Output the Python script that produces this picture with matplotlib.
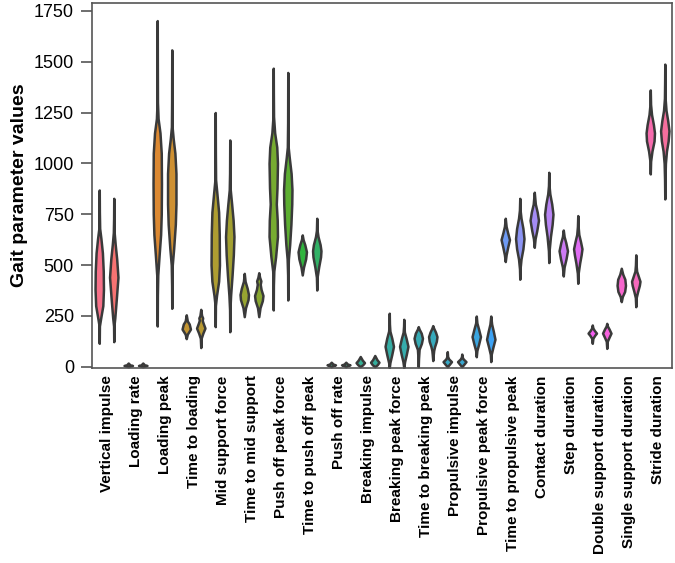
import matplotlib
matplotlib.use("Agg")
import matplotlib.pyplot as plt
import seaborn as sns

plt.rcParams['font.family'] = ['Liberation Sans', 'DejaVu Sans']

labels = ['Vertical impulse', 'Loading rate', 'Loading peak', 'Time to loading',
          'Mid support force', 'Time to mid support', 'Push off peak force',
          'Time to push off peak', 'Push off rate', 'Breaking impulse',
          'Breaking peak force', 'Time to breaking peak', 'Propulsive impulse',
          'Propulsive peak force', 'Time to propulsive peak', 'Contact duration',
          'Step duration', 'Double support duration', 'Single support duration',
          'Stride duration']

# density profiles: value knots and relative density (0..1)
# two violins per parameter
profiles = [
    # Vertical impulse
    ([115, 200, 240, 300, 380, 470, 560, 630, 680, 760, 869],
     [0, .04, .35, .85, 1, .95, .75, .4, .1, .03, 0]),
    ([123, 200, 240, 330, 440, 530, 600, 660, 730, 828],
     [0, .04, .25, .6, 1, .7, .35, .1, .03, 0]),
    # Loading rate
    ([0, 3, 6, 9, 18], [0, .5, 1, .4, 0]),
    ([0, 3, 6, 9, 18], [0, .5, 1, .4, 0]),
    # Loading peak
    ([200, 350, 450, 550, 650, 750, 900, 1050, 1150, 1220, 1300, 1500, 1702],
     [0, .03, .12, .45, .8, .95, 1, .95, .65, .2, .05, .02, 0]),
    ([287, 400, 500, 580, 700, 800, 950, 1050, 1120, 1180, 1300, 1558],
     [0, .03, .12, .45, .85, 1, 1, .75, .35, .08, .03, 0]),
    # Time to loading
    ([138, 160, 185, 210, 225, 255], [0, .25, 1, .7, .25, 0]),
    ([94, 140, 165, 190, 215, 228, 240, 252, 282],
     [0, .1, .5, 1, .55, .35, .45, .2, 0]),
    # Mid support force
    ([197, 300, 350, 420, 500, 650, 760, 850, 920, 1050, 1250],
     [0, .04, .3, .8, 1, .95, .8, .4, .08, .03, 0]),
    ([172, 280, 350, 450, 550, 640, 720, 800, 870, 950, 1115],
     [0, .04, .2, .55, .85, 1, .8, .45, .12, .04, 0]),
    # Time to mid support
    ([246, 290, 330, 355, 385, 420, 459], [0, .3, .9, 1, .7, .2, 0]),
    ([246, 290, 325, 350, 380, 405, 422, 440, 462],
     [0, .3, .85, 1, .55, .35, .5, .2, 0]),
    # Push off peak force
    ([279, 400, 470, 540, 640, 720, 800, 880, 1000, 1080, 1150, 1230, 1350, 1468],
     [0, .03, .12, .5, .9, .85, .65, .8, .9, .75, .3, .06, .02, 0]),
    ([328, 450, 530, 600, 700, 800, 870, 950, 1030, 1080, 1200, 1447],
     [0, .03, .15, .45, .75, .95, 1, .8, .35, .1, .03, 0]),
    # Time to push off peak
    ([451, 490, 530, 565, 600, 625, 648], [0, .3, .8, 1, .6, .2, 0]),
    ([377, 440, 490, 540, 570, 600, 640, 670, 730],
     [0, .08, .45, .9, 1, .8, .3, .08, 0]),
    # Push off rate
    ([0, 5, 9, 13, 22], [0, .4, 1, .4, 0]),
    ([0, 5, 9, 13, 22], [0, .4, 1, .4, 0]),
    # Breaking impulse
    ([0, 10, 20, 32, 50], [0, .6, 1, .5, 0]),
    ([0, 10, 22, 35, 55], [0, .6, 1, .5, 0]),
    # Breaking peak force
    ([-5, 20, 60, 100, 140, 175, 210, 263], [0, .15, .6, 1, .6, .15, .04, 0]),
    ([-5, 25, 60, 100, 140, 170, 200, 233], [0, .2, .6, 1, .55, .15, .04, 0]),
    # Time to breaking peak
    ([0, 40, 85, 115, 140, 165, 185, 197], [0, .06, .2, .75, 1, .7, .2, 0]),
    ([30, 60, 80, 100, 125, 148, 170, 190, 202],
     [0, .12, .22, .45, .85, 1, .65, .2, 0]),
    # Propulsive impulse
    ([0, 12, 25, 38, 50, 74], [0, .5, 1, .35, .08, 0]),
    ([0, 12, 25, 38, 48, 62], [0, .5, 1, .35, .08, 0]),
    # Propulsive peak force
    ([49, 80, 110, 148, 185, 215, 249], [0, .15, .55, 1, .55, .15, 0]),
    ([25, 60, 95, 135, 175, 210, 249], [0, .1, .5, 1, .6, .2, 0]),
    # Time to propulsive peak
    ([517, 550, 590, 625, 660, 690, 730], [0, .2, .6, 1, .55, .2, 0]),
    ([430, 480, 530, 580, 630, 680, 730, 770, 828],
     [0, .06, .3, .75, 1, .75, .3, .08, 0]),
    # Contact duration
    ([587, 630, 670, 720, 760, 800, 858], [0, .2, .6, 1, .7, .25, 0]),
    ([512, 570, 640, 700, 750, 800, 850, 890, 956],
     [0, .08, .4, .8, 1, .7, .25, .07, 0]),
    # Step duration
    ([446, 490, 530, 570, 610, 640, 672], [0, .2, .65, 1, .6, .2, 0]),
    ([410, 460, 510, 550, 580, 615, 650, 690, 743],
     [0, .1, .45, .8, 1, .65, .25, .08, 0]),
    # Double support duration
    ([115, 140, 155, 165, 178, 190, 205], [0, .15, .6, 1, .5, .15, 0]),
    ([90, 125, 145, 165, 185, 200, 213], [0, .12, .55, 1, .55, .15, 0]),
    # Single support duration
    ([320, 345, 370, 400, 430, 455, 484], [0, .25, .8, 1, .85, .35, 0]),
    ([295, 340, 370, 400, 420, 445, 470, 500, 550],
     [0, .1, .45, .85, 1, .6, .2, .08, 0]),
    # Stride duration
    ([948, 1010, 1060, 1110, 1150, 1190, 1240, 1290, 1361],
     [0, .08, .4, .9, 1, .75, .3, .07, 0]),
    ([825, 920, 1000, 1060, 1110, 1160, 1210, 1260, 1320, 1400, 1488],
     [0, .05, .15, .4, .8, 1, .7, .3, .08, .03, 0]),
]

n = len(profiles)
colors = sns.color_palette('husl', n)

stats = []
for ys, ws in profiles:
    stats.append({'coords': ys, 'vals': ws, 'mean': ys[len(ys) // 2],
                  'median': ys[len(ys) // 2], 'min': ys[0], 'max': ys[-1]})

fig = plt.figure(figsize=(6.75, 5.63), dpi=100)
ax = fig.add_axes([0.1363, 0.3458, 0.8593, 0.6494])

parts = ax.violin(stats, positions=range(n), widths=0.58,
                  showmeans=False, showextrema=False, showmedians=False)
for body, c in zip(parts['bodies'], colors):
    body.set_facecolor(c)
    body.set_edgecolor('#3a3a3a')
    body.set_linewidth(1.8)
    body.set_alpha(1)

ax.set_xlim(-0.5, n - 0.5)
ax.set_ylim(-8, 1790)
ax.set_yticks([0, 250, 500, 750, 1000, 1250, 1500, 1750])
ax.set_xticks([i * 2 + 0.5 for i in range(len(labels))])
ax.set_xticklabels(labels, rotation=90, fontweight='bold', fontsize=11)
ax.tick_params(axis='x', length=0, pad=5)
ax.tick_params(axis='y', length=8, width=1.2, color='#555555', pad=5,
               labelsize=13)
ax.set_ylabel('Gait parameter values', fontweight='bold', fontsize=14)
for s in ax.spines.values():
    s.set_color('#555555')
    s.set_linewidth(1.2)

fig.savefig('out.png', dpi=100)
